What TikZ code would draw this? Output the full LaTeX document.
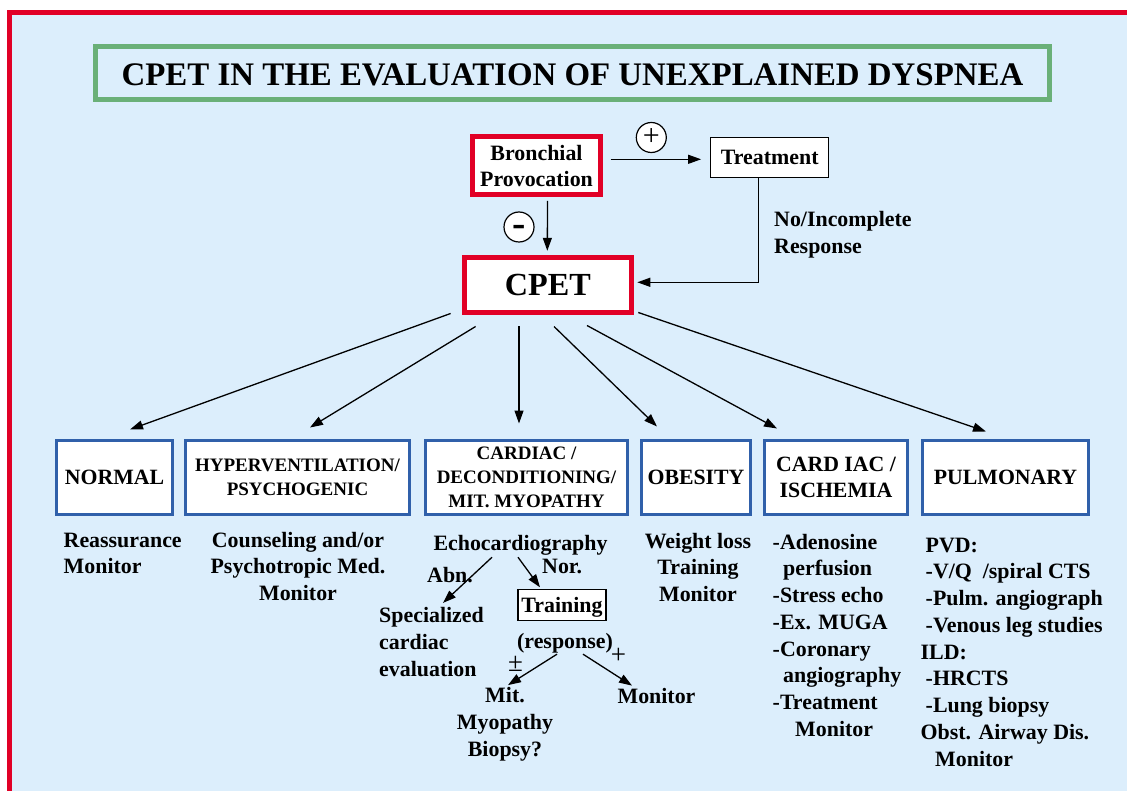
\documentclass[tikz,border=0pt]{standalone}
\usepackage{fontspec}
\setmainfont{Liberation Serif}
\usetikzlibrary{arrows.meta,calc}

\definecolor{framered}{RGB}{225,0,38}
\definecolor{paleblue}{RGB}{220,238,252}
\definecolor{titlegreen}{RGB}{106,176,120}
\definecolor{boxblue}{RGB}{48,96,170}

\newcommand{\flowfont}{\fontsize{21.9}{26.75}\selectfont\bfseries}
\newcommand{\catfont}{\fontsize{21.8}{26}\selectfont\bfseries}
\newcommand{\smallcatfont}{\fontsize{19}{24}\selectfont\bfseries}

\tikzset{
  redbox/.style={draw=framered,line width=5pt,fill=white,inner sep=0pt,align=center},
  catbox/.style={draw=boxblue,line width=3pt,fill=white,inner sep=0pt,align=center,minimum height=74pt,font=\catfont},
  thinbox/.style={draw=black,line width=1.2pt,fill=white,inner sep=0pt,font=\flowfont},
  signcirc/.style={draw=black,line width=1.2pt,fill=white,circle,minimum size=30pt,inner sep=0pt},
  flowtext/.style={inner sep=0pt,font=\flowfont},
  arr/.style={-{Triangle[length=13pt,width=9pt]},line width=1.3pt}
}

\begin{document}
\begin{tikzpicture}[x=1pt,y=-1pt]
\clip (0,0) rectangle (1127,791);
\fill[white] (0,0) rectangle (1127,791);
\draw[framered,line width=5pt,fill=paleblue] (9.8,12.5) rectangle (1140,805);
% --- title ---
\node[draw=titlegreen,line width=5pt,inner sep=0pt,minimum width=954pt,minimum height=53pt,text height=25pt,
  font=\fontsize{32.9}{36}\selectfont\bfseries] (title) at (572.5,73) {CPET IN THE EVALUATION OF UNEXPLAINED DYSPNEA};
% --- provocation / treatment / cpet ---
\node[redbox,minimum width=128pt,minimum height=58pt,font=\flowfont] (bronch) at (536.5,166) {Bronchial\\Provocation};
\node[thinbox,minimum width=118pt,minimum height=40pt] (treat) at (769.7,157.2) {Treatment};
\node[redbox,minimum width=167pt,minimum height=55pt,font=\fontsize{32.2}{36}\selectfont\bfseries] (cpet) at (547.8,285) {CPET};
\node[signcirc,font=\fontsize{30}{30}\selectfont] (plus) at (651.3,137.5) {+};
\node[signcirc,font=\fontsize{40}{40}\selectfont\bfseries,text height=19.6pt,text depth=0pt] (minus) at (519,227) {-};
\node[flowtext,align=left,anchor=base west] (noresp) at (774,253.45) {No/Incomplete\\Response};
\draw[arr] ($(bronch.east)+(7.5,-6.7)$) -- ($(treat.west)+(-9,2.1)$);
\draw[arr] ($(bronch.south)+(11,3.5)$) -- ($(cpet.north)+(-0.5,-4.2)$);
\draw[arr] ($(treat.south)+(-11.4,0)$) |- ($(cpet.east)+(3.5,-2.7)$);
% --- categories ---
\node[catbox,minimum width=116pt] (normal) at (114.5,477.5) {NORMAL};
\node[catbox,minimum width=224pt,font=\smallcatfont] (hyper) at (297.5,477.5) {HYPERVENTILATION/\\PSYCHOGENIC};
\node[catbox,minimum width=202pt,font=\smallcatfont] (cardiac) at (526.5,477.5) {CARDIAC /\\DECONDITIONING/\\MIT. MYOPATHY};
\node[catbox,minimum width=109pt] (obesity) at (696,477.5) {OBESITY};
\node[catbox,minimum width=143pt] (ischem) at (836,477.5) {CARD IAC /\\ISCHEMIA};
\node[catbox,minimum width=166pt] (pulm) at (1005.5,477.5) {PULMONARY};
\draw[arr] ($(cpet.south west)+(-11.2,-1.5)$) -- ($(normal.north)+(15.5,-9.5)$);
\draw[arr] ($(cpet.south west)+(13.8,11.5)$) -- ($(hyper.north)+(12.5,-11.5)$);
\draw[arr] ($(cpet.south)+(-28.8,11.5)$) -- ($(cardiac.north)+(-7.5,-15.5)$);
\draw[arr] ($(cpet.south)+(6.2,11.5)$) -- ($(obesity.north)+(-39,-12.5)$);
\draw[arr] ($(cpet.south)+(39.2,10.5)$) -- ($(ischem.north)+(-59,-10.5)$);
\draw[arr] ($(cpet.south east)+(4.5,-2.5)$) -- ($(pulm.north)+(-19.5,-7.5)$);
% --- management (base = last line) ---
\node[flowtext,align=left,anchor=base west] (reassure) at (63.5,573.75) {Reassurance\\Monitor};
\node[flowtext,align=center,anchor=base] (counsel) at (298,600.5) {Counseling and/or\\Psychotropic Med.\\Monitor};
\node[flowtext,align=center,anchor=base] (weight) at (698,601.5) {Weight loss\\Training\\Monitor};
\node[flowtext,align=left,anchor=base west] (ischemlist) at (772.5,736.25) {-Adenosine\\\hspace*{10.5pt}perfusion\\-Stress echo\\-Ex. MUGA\\-Coronary\\\hspace*{10.5pt}angiography\\-Treatment\\\hspace*{22.5pt}Monitor};
\node[flowtext,align=left,anchor=base west] (pulmlist) at (920.5,766) {\hspace*{5pt}PVD:\\\hspace*{5pt}-V/Q\ \ /spiral CTS\\\hspace*{5pt}-Pulm. angiograph\\\hspace*{5pt}-Venous leg studies\\ILD:\\\hspace*{5pt}-HRCTS\\\hspace*{5pt}-Lung biopsy\\Obst. Airway Dis.\\\hspace*{14.5pt}Monitor};
% --- cardiac work-up ---
\node[flowtext,anchor=base] (echo) at (520.5,550) {Echocardiography};
\node[flowtext,anchor=base west] (abn) at (427,582) {Abn.};
\node[flowtext,anchor=base west] (nor) at (542,573) {Nor.};
\node[thinbox,minimum width=88pt,minimum height=31pt,text depth=0pt] (training) at (562,605) {Training};
\node[flowtext,align=left,anchor=base west] (special) at (379,676) {Specialized\\cardiac\\evaluation};
\node[flowtext,anchor=base] (response) at (565,648) {(response)};
\node[inner sep=0pt,font=\fontsize{27}{27}\selectfont] (pm) at (515.5,663.5) {±};
\node[inner sep=0pt,font=\fontsize{27}{27}\selectfont] (plussign) at (618.5,656) {+};
\node[flowtext,align=center,anchor=base] (mit) at (505,756) {Mit.\\Myopathy\\Biopsy?};
\node[flowtext,anchor=base] (monitorc) at (656.5,703) {Monitor};
\draw[arr] ($(echo.south)+(-28.5,2.2)$) -- ($(special.north west)+(64,-4.2)$);
\draw[arr] ($(echo.south)+(-2.5,2.2)$) -- ($(training.north)+(-22,-1.6)$);
\draw[arr] ($(response.south)+(-8,1.3)$) -- ($(mit.north)+(3,-2)$);
\draw[arr] ($(response.south)+(18,1.3)$) -- ($(monitorc.north)+(-24.5,-2)$);
\end{tikzpicture}
\end{document}
